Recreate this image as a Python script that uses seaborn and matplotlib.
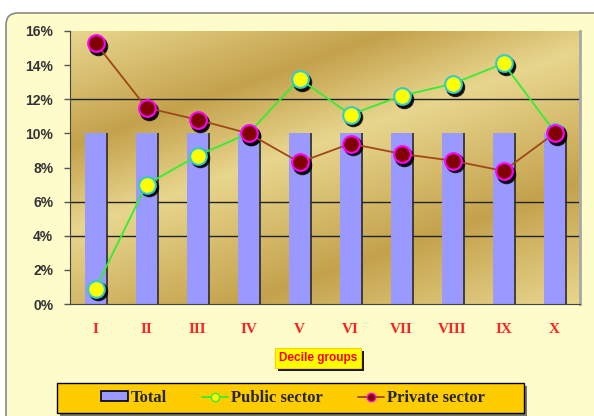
import numpy as np
import pandas as pd
import matplotlib
matplotlib.use("Agg")
import matplotlib.pyplot as plt
import matplotlib.patheffects as pe
import matplotlib.transforms as mtransforms
from matplotlib.patches import FancyBboxPatch, Patch, Rectangle
from matplotlib.lines import Line2D
from matplotlib.colors import LinearSegmentedColormap
from matplotlib.ticker import PercentFormatter, FixedLocator
import seaborn as sns

# values (percent)
deciles = ["I", "II", "III", "IV", "V", "VI", "VII", "VIII", "IX", "X"]
total = [10, 10, 10, 10, 10, 10, 10, 10, 10, 10]
public_sector = [0.9, 7.0, 8.7, 10.0, 13.2, 11.1, 12.2, 12.9, 14.1, 10.1]
private_sector = [15.3, 11.5, 10.8, 10.0, 8.3, 9.4, 8.8, 8.4, 7.8, 10.0]
y_ticks = [0, 2, 4, 6, 8, 10, 12, 14, 16]
grid_levels = [4, 6, 12]

df = pd.DataFrame({"Decile": deciles, "Total": total,
                   "Public": public_sector, "Private": private_sector})

sns.set_style("white")
SANS = ["Liberation Sans", "DejaVu Sans"]
SERIF = ["Liberation Serif", "DejaVu Serif"]

fig = plt.figure(figsize=(5.94, 4.16), dpi=100)
fig.patch.set_facecolor("white")

# light yellow chart area with rounded corner
chart_box = FancyBboxPatch((6, -10), 620, 413, boxstyle="round,pad=0,rounding_size=12",
                           transform=mtransforms.IdentityTransform(),
                           fc="#FFFCCC", ec="#8a8a80", lw=1.2, zorder=-5)
fig.patches.append(chart_box)

# legend box
leg_box = Rectangle((57 / 594, 1 - 413 / 416), 467 / 594, 30 / 416, transform=fig.transFigure,
                    fc="#FFCC00", ec="black", lw=1.0, zorder=-4)
leg_box.set_path_effects([pe.SimplePatchShadow(offset=(2, -2), shadow_rgbFace="#555555", alpha=0.8),
                          pe.Normal()])
fig.patches.append(leg_box)

ax = fig.add_axes([70 / 594, 1 - 304 / 416, 510 / 594, 273 / 416])

# golden diagonal-banded background
gx, gy = np.meshgrid(np.linspace(0, 1, 300), np.linspace(0, 1, 200))
u = 0.6 * gx + 0.9 * (1 - gy)
shade = np.interp(u, [0, 0.38, 0.66, 1.1, 1.5], [1, 0, 1, 0, 1])
gold = LinearSegmentedColormap.from_list("gold", ["#C4A24C", "#E8D68E"])
ax.imshow(shade, cmap=gold, extent=[0, 1, 0, 1], transform=ax.transAxes,
          aspect="auto", origin="lower", zorder=0, interpolation="bilinear")

for lvl in grid_levels:
    ax.axhline(lvl, color="#222222", lw=1.0, zorder=1)

sns.barplot(data=df, x="Decile", y="Total", color="#9999FF", saturation=1,
            width=0.41, ax=ax, zorder=3, edgecolor="none", errorbar=None)
for bar in ax.patches:
    bar.set_path_effects([pe.SimplePatchShadow(offset=(1.5, 0), shadow_rgbFace="#333333", alpha=0.9),
                          pe.Normal()])

shift = mtransforms.ScaledTranslation(2 / 72, -2 / 72, fig.dpi_scale_trans)


def marker_shadow(col, z):
    n = len(ax.lines)
    sns.pointplot(data=df, x="Decile", y=col, color="black", markers="o",
                  linestyles="none", ax=ax, markersize=12, errorbar=None, zorder=z)
    for ln in ax.lines[n:]:
        ln.set_transform(ax.transData + shift)
        ln.set_alpha(0.85)


# public sector
marker_shadow("Public", 4)
sns.pointplot(data=df, x="Decile", y="Public", color="#33EE33", markers="o",
              linestyles="-", ax=ax, markersize=12, linewidth=1.3, errorbar=None,
              markerfacecolor="#FFFF00", markeredgecolor="#33CCCC",
              markeredgewidth=1.5, zorder=5)

# private sector
marker_shadow("Private", 6)
sns.pointplot(data=df, x="Decile", y="Private", color="#A0471A", markers="o",
              linestyles="-", ax=ax, markersize=12, linewidth=1.3, errorbar=None,
              markerfacecolor="#800000", markeredgecolor="#FF00FF",
              markeredgewidth=1.5, zorder=7)

ax.set_xlim(-0.5, len(deciles) - 0.5)
ax.set_ylim(0, 16)
ax.set_yticks(y_ticks)
ax.yaxis.set_major_formatter(PercentFormatter(xmax=100, decimals=0))
ax.set_xlabel("")
ax.set_ylabel("")

for lbl in ax.get_yticklabels():
    lbl.set_fontfamily(SANS)
    lbl.set_fontweight("bold")
    lbl.set_fontsize(10)
    lbl.set_color("#333333")
for lbl in ax.get_xticklabels():
    lbl.set_fontfamily(SERIF)
    lbl.set_fontweight("bold")
    lbl.set_fontsize(11)
    lbl.set_color("#FF2222")

ax.tick_params(axis="x", which="major", length=0, pad=14)
ax.xaxis.set_minor_locator(FixedLocator(np.arange(-0.5, len(deciles), 1.0)))
ax.tick_params(axis="x", which="minor", length=4, width=1, color="#777777", direction="out")
ax.tick_params(axis="y", length=4, width=1, color="#555555", direction="out", left=True, pad=8)

ax.spines["top"].set_visible(False)
ax.spines["left"].set_color("#444444")
ax.spines["bottom"].set_color("#444444")
ax.spines["right"].set_color("#A8A8A8")
ax.spines["right"].set_linewidth(2)
for sp in ax.spines.values():
    sp.set_zorder(8)

# axis title box
title = fig.text(318 / 594, 1 - 358 / 416, "Decile groups", ha="center", va="center",
                 fontsize=8.5, color="#FF0000", fontweight="bold", family=SANS,
                 bbox=dict(boxstyle="square,pad=0.35", fc="#FFFF00", ec="#FFCC00", lw=0.8))
title.get_bbox_patch().set_path_effects([pe.SimplePatchShadow(offset=(2, -2), shadow_rgbFace="black", alpha=0.9),
                                         pe.Normal()])

# legend
handles = [
    Patch(facecolor="#9999FF", edgecolor="black", lw=1.2),
    Line2D([], [], color="#33EE33", lw=1.3, marker="o", markersize=6,
           markerfacecolor="#FFFF00", markeredgecolor="#33EE33"),
    Line2D([], [], color="#A0471A", lw=1.3, marker="o", markersize=6,
           markerfacecolor="#800000", markeredgecolor="#FF00FF"),
]
leg = fig.legend(handles, ["Total", "Public sector", "Private sector"], ncol=3,
                 loc="center", bbox_to_anchor=(293 / 594, 1 - 398 / 416),
                 frameon=False, handlelength=1.6, handleheight=0.55,
                 handletextpad=0.15, columnspacing=2.1, borderaxespad=0,
                 prop={"family": SERIF, "weight": "bold", "size": 12})

fig.savefig("out.png", dpi=100)
